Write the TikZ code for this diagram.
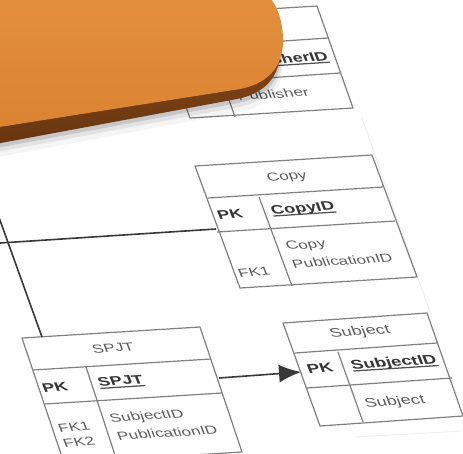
\documentclass[tikz,border=0pt]{standalone}
\usepackage{fontspec}
\setmainfont{Liberation Sans}
\usetikzlibrary{arrows.meta}
\definecolor{tcol}{HTML}{808080}
\definecolor{ccol}{HTML}{383838}
\definecolor{txtcol}{HTML}{5E5E5E}
\definecolor{boldcol}{HTML}{363636}
\definecolor{ulcol}{HTML}{505050}
\definecolor{orfacetop}{HTML}{E3903E}
\definecolor{orfacebot}{HTML}{DB8331}
\definecolor{orside}{HTML}{673510}
\definecolor{orsidetop}{HTML}{935018}
\newcommand\ulb[1]{\setbox0\hbox{\bfseries #1}\rlap{\raisebox{-3.8pt}{\color{ulcol}\rule{\wd0}{1.8pt}}}\box0}
\newcommand\lbl[5][]{\begin{scope}[shift={(#3,#4)},rotate=3.7,xslant=-0.31,yscale=0.7]\node[txt,transform shape,#1] (#2) at (0,0) {#5};\end{scope}}
\begin{document}
\begin{tikzpicture}[x=1pt,y=-1pt,
  tline/.style={draw=tcol,line width=1.2pt,line join=round},
  conn/.style={draw=ccol,line width=1.6pt},
  txt/.style={inner sep=0pt,text=txtcol,font=\fontsize{17}{21}\selectfont},
  btxt/.style={text=boldcol,font=\fontsize{18}{21}\selectfont\bfseries},
  big/.style={font=\fontsize{18}{22}\selectfont},
  bigb/.style={text=boldcol,font=\fontsize{18.5}{22}\selectfont\bfseries},
  faint/.style={draw=black!7,line width=0.8pt}]
\useasboundingbox (0,0) rectangle (463,453);
\clip (0,0) rectangle (463,453);
\fill[white] (0,0) rectangle (463,453);
% faint page edges
\draw[faint] (362,118) -- (432,318);
\draw[faint] (355,437) -- (463,431);
% connectors' free ends
\coordinate (leftA) at (0,243);
\coordinate (leftB) at (-8,198);
% Publisher table
\draw[tline,fill=white] (153,16) -- (317,6) -- (353,108) -- (190,118) -- cycle;
\draw[tline] (165,49) -- (328,38);
\draw[tline] (178,84) -- (340,73);
\draw[tline] (210,46) -- (235,117);
\lbl[anchor=east,btxt]{pubid}{328}{57}{\ulb{PublisherID}}
\lbl{pubname}{273}{94}{Publisher}
% Copy table
\draw[tline,fill=white] (195,166) -- (372,155) -- (417,277) -- (240,288) -- cycle;
\draw[tline] (208,198) -- (383,187);
\draw[tline] (217,232) -- (395,221);
\draw[tline] (259,197) -- (292,286);
\coordinate (copyL) at (216,229);
\lbl{copyT}{287}{177}{Copy}
\lbl[btxt]{copyPK}{230}{214}{PK}
\lbl[btxt]{copyID}{303}{209}{\ulb{CopyID}}
\lbl[anchor=west]{copyA1}{286}{247}{Copy}
\lbl[anchor=west]{copyA2}{292}{264}{PublicationID}
\lbl{copyFK}{254}{272}{FK1}
% SPJT table
\draw[tline,fill=white] (22,338) -- (200,327) -- (242,452) -- (64,463) -- cycle;
\draw[tline] (33,370) -- (211,359);
\draw[tline] (45,404) -- (222,393);
\draw[tline] (86,367) -- (116,458);
\coordinate (spjtTop) at (42,337);
\coordinate (spjtR) at (219,378);
\lbl{spjtT}{113}{348}{SPJT}
\lbl[btxt]{spjtPK}{55}{387}{PK}
\lbl[btxt]{spjtID}{121}{382}{\ulb{SPJT}}
\lbl{spjtFK1}{74}{427}{FK1}
\lbl{spjtFK2}{79}{442}{FK2}
\lbl[anchor=west]{spjtA1}{110}{419}{SubjectID}
\lbl[anchor=west]{spjtA2}{117}{436}{PublicationID}
% Subject table
\draw[tline,fill=white] (283,323) -- (427,313) -- (463,416) -- (320,426) -- cycle;
\draw[tline] (295,353) -- (437,343);
\draw[tline] (307,388) -- (452,378);
\draw[tline] (338,352) -- (363,422);
\coordinate (subjL) at (301,372);
\lbl[big]{subjT}{360}{332}{Subject}
\lbl[bigb]{subjPK}{320}{368}{PK}
\lbl[bigb]{subjID}{394}{363}{\ulb{SubjectID}}
\lbl[big]{subjAttr}{395}{402}{Subject}
% connectors
\draw[conn] (leftA) -- (copyL);
\draw[conn] (leftB) -- (spjtTop);
\draw[conn,-{Latex[length=22pt,width=18pt]}] (spjtR) -- (subjL);
% orange block: shadow, side, face
\foreach \sx/\sy/\o in {3/13/0.04,2/8/0.07,1/4/0.12}{
  \fill[black,opacity=\o,shift={(\sx,\sy)}] (-10,0) -- (250,0) .. controls (272,2) and (281,30) .. (280,55) .. controls (278,80) and (262,94) .. (237,99) -- (-10,145) -- cycle;}
\shade[top color=orsidetop,bottom color=orside] (-10,0) -- (250,0) .. controls (272,2) and (281,30) .. (280,55) .. controls (278,80) and (262,94) .. (237,99) -- (-10,145) -- cycle;
\shade[top color=orfacetop,bottom color=orfacebot] (-10,-10) -- (255,-10) .. controls (275,-8) and (284,20) .. (283,45) .. controls (281,70) and (265,84) .. (240,89) -- (-10,128.5) -- cycle;
\end{tikzpicture}
\end{document}
